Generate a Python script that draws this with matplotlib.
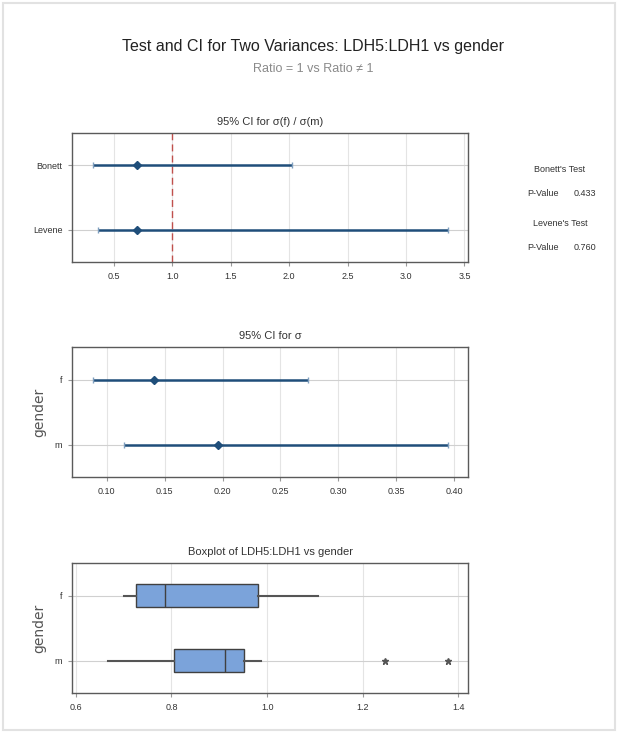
import matplotlib
matplotlib.use('Agg')
import matplotlib.pyplot as plt
from matplotlib.patches import Rectangle
import numpy as np

plt.rcParams['font.family'] = ['Liberation Sans', 'DejaVu Sans']

# ---- data ----
ratio_methods = ['Bonett', 'Levene']
ratio_est = [0.70, 0.70]
ratio_lo = [0.32, 0.36]
ratio_hi = [2.02, 3.36]

genders = ['f', 'm']
sigma_est = [0.1405, 0.1958]
sigma_lo = [0.0880, 0.1145]
sigma_hi = [0.2737, 0.3948]

box_q1 = [0.726, 0.805]
box_med = [0.787, 0.911]
box_q3 = [0.980, 0.952]
box_whislo = [0.700, 0.668]
box_whishi = [1.106, 0.988]
box_fliers = [[], [1.247, 1.379]]

test_names = ["Bonett's Test", "Levene's Test"]
p_values = ['0.433', '0.760']

ratio_ticks = [0.5, 1.0, 1.5, 2.0, 2.5, 3.0, 3.5]
sigma_ticks = [0.10, 0.15, 0.20, 0.25, 0.30, 0.35, 0.40]
box_ticks = [0.6, 0.8, 1.0, 1.2, 1.4]

# ---- styling ----
W, H = 627, 732
line_col = '#1f4e7a'
grid_col = '#e4e4e4'
cat_col = '#d0d0d0'
spine_col = '#5a5a5a'
text_col = '#333333'


def frac(left, top, right, bottom):
    return [left / W, 1 - bottom / H, (right - left) / W, (bottom - top) / H]


def style_axis(ax, ticks, fmt, xlim):
    ax.set_xlim(*xlim)
    ax.set_ylim(2.5, 0.5)
    ax.set_xticks(ticks)
    ax.set_xticklabels([fmt.format(t) for t in ticks], fontsize=6.5, color=text_col)
    ax.tick_params(axis='both', length=3, color='#999999', pad=4)
    ax.tick_params(axis='y', labelsize=6.5, labelcolor=text_col)
    for t in ticks:
        ax.axvline(t, color=grid_col, lw=0.8, zorder=0)
    for y in (1, 2):
        ax.axhline(y, color=cat_col, lw=0.8, zorder=0)
    for s in ax.spines.values():
        s.set_color(spine_col)
        s.set_linewidth(1.0)


def ci_plot(ax, est, lo, hi):
    y = np.arange(1, len(est) + 1)
    ax.hlines(y, lo, hi, color=line_col, lw=1.8, zorder=3)
    ax.plot(lo, y, marker='|', ms=5, color='#7f9fbf', ls='none', zorder=3)
    ax.plot(hi, y, marker='|', ms=5, color='#7f9fbf', ls='none', zorder=3)
    ax.plot(est, y, marker='D', ms=4, color=line_col, ls='none', zorder=4)


fig = plt.figure(figsize=(W / 100, H / 100), dpi=100)
fig.patches.append(Rectangle((3 / W, 2 / H), 612 / W, 727 / H, transform=fig.transFigure,
                             fill=False, ec='#e2e2e2', lw=1.5))

fig.text(0.5, 1 - 46 / H, 'Test and CI for Two Variances: LDH5:LDH1 vs gender',
         ha='center', va='center', fontsize=11.5, color='#222222')
fig.text(0.5, 1 - 69 / H, 'Ratio = 1 vs Ratio \u2260 1', ha='center', va='center',
         fontsize=9, color='#8a8a8a')

# panel 1: ratio CI
ax1 = fig.add_axes(frac(72, 133, 468, 262))
style_axis(ax1, ratio_ticks, '{:.1f}', (0.14, 3.53))
ci_plot(ax1, ratio_est, ratio_lo, ratio_hi)
ax1.axvline(1.0, color='#c0504d', ls=(0, (5, 3)), lw=1.0, zorder=2)
ax1.set_yticks([1, 2])
ax1.set_yticklabels(ratio_methods)
ax1.set_title('95% CI for \u03c3(f) / \u03c3(m)', fontsize=8, color=text_col, pad=6)

# right side test results
for i, (name, p) in enumerate(zip(test_names, p_values)):
    y0 = 169 + i * 54
    fig.text(560 / W, 1 - y0 / H, name, ha='center', va='center', fontsize=6.5, color=text_col)
    fig.text(527 / W, 1 - (y0 + 25) / H, 'P-Value', ha='left', va='center', fontsize=6.5, color=text_col)
    fig.text(596 / W, 1 - (y0 + 25) / H, p, ha='right', va='center', fontsize=6.5, color=text_col)

# panel 2: sigma CI
ax2 = fig.add_axes(frac(72, 347, 468, 477))
style_axis(ax2, sigma_ticks, '{:.2f}', (0.07, 0.412))
ci_plot(ax2, sigma_est, sigma_lo, sigma_hi)
ax2.set_yticks([1, 2])
ax2.set_yticklabels(genders)
ax2.set_ylabel('gender', fontsize=10, color='#555555', family='DejaVu Sans', labelpad=6)
ax2.set_title('95% CI for \u03c3', fontsize=8, color=text_col, pad=6)

# panel 3: boxplot
ax3 = fig.add_axes(frac(72, 563, 468, 693))
style_axis(ax3, box_ticks, '{:.1f}', (0.592, 1.42))
stats = []
for i in range(len(genders)):
    stats.append(dict(q1=box_q1[i], med=box_med[i], q3=box_q3[i],
                      whislo=box_whislo[i], whishi=box_whishi[i], fliers=box_fliers[i]))
ax3.bxp(stats, positions=[1, 2], widths=0.34, vert=False, patch_artist=True, showcaps=False,
        boxprops=dict(facecolor='#7ba3da', edgecolor='#404040', lw=1.0),
        medianprops=dict(color='#404040', lw=1.0),
        whiskerprops=dict(color='#555555', lw=1.5),
        flierprops=dict(marker='*', ms=5, mfc='#555555', mec='#555555'))
ax3.set_ylim(2.5, 0.5)
ax3.set_yticks([1, 2])
ax3.set_yticklabels(genders)
ax3.set_ylabel('gender', fontsize=10, color='#555555', family='DejaVu Sans', labelpad=6)
ax3.set_title('Boxplot of LDH5:LDH1 vs gender', fontsize=8, color=text_col, pad=6)

fig.savefig('out.png', dpi=100)
